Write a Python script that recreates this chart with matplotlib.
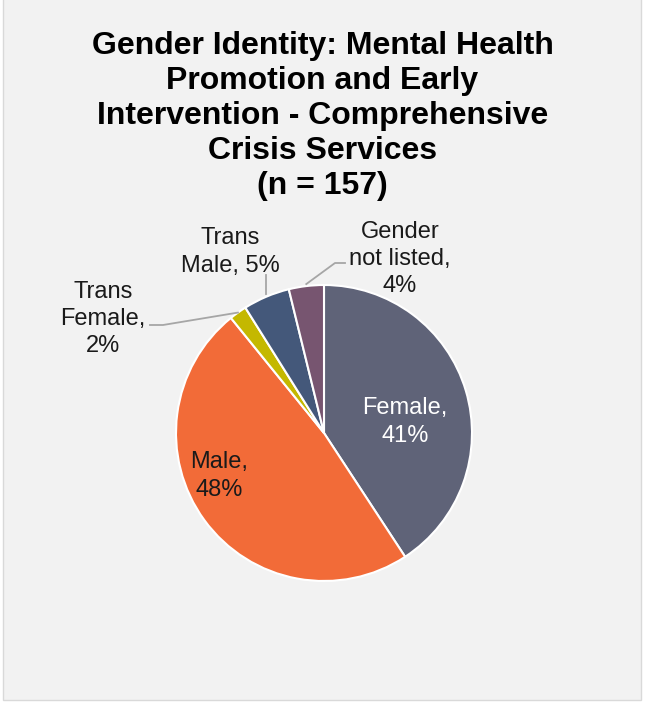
import numpy as np
import matplotlib.pyplot as plt
from matplotlib.patches import Rectangle

plt.rcParams['font.family'] = ['Liberation Sans', 'DejaVu Sans']

labels = ['Female', 'Male', 'Trans\nFemale', 'Trans\nMale', 'Gender\nnot listed']
counts = [64, 76, 3, 8, 6]
pcts = ['41%', '48%', '2%', '5%', '4%']
colors = ['#5F6378', '#F26B38', '#C4B800', '#44587A', '#775570']

W, H = 645, 702
fig = plt.figure(figsize=(W / 100, H / 100), dpi=100, facecolor='white')

ax = fig.add_axes([0, 0, 1, 1])
ax.add_patch(Rectangle((3, 2), 638, H, facecolor='#F2F2F2', edgecolor='#D9D9D9',
                       lw=1, zorder=0))

cx, cy, r = 324, H - 433, 148
wedges, _ = ax.pie(counts, colors=colors, startangle=90, counterclock=False,
                   center=(cx, cy), radius=r, frame=True,
                   wedgeprops=dict(edgecolor='white', linewidth=1.5))
ax.set_xlim(0, W)
ax.set_ylim(0, H)
ax.set_aspect('equal')
ax.axis('off')

ax.text(W / 2, H - 31, 'Gender Identity: Mental Health\nPromotion and Early\n'
        'Intervention - Comprehensive\nCrisis Services\n(n = 157)',
        ha='center', va='top', fontsize=23, fontweight='bold',
        linespacing=1.22, color='black')


def edge_point(w):
    ang = np.deg2rad((w.theta1 + w.theta2) / 2)
    return cx + r * np.cos(ang), cy + r * np.sin(ang)


fs = 17
ls = 1.3
txt = '#1A1A1A'
# inside labels
ax.text(405, H - 422, labels[0] + ',\n' + pcts[0], ha='center', va='center',
        fontsize=fs, color='white', linespacing=ls)
ax.text(219, H - 476, labels[1] + ',\n' + pcts[1], ha='center', va='center',
        fontsize=fs, color=txt, linespacing=ls)

# outside labels with leader lines
line_kw = dict(color='#A6A6A6', lw=1.3)
x, y = edge_point(wedges[2])
ax.text(103, H - 319, 'Trans\nFemale,\n' + pcts[2], ha='center', va='center',
        fontsize=fs, color=txt, linespacing=ls)
ax.plot([150, 163, x], [H - 325, H - 325, y], **line_kw)

x, y = edge_point(wedges[3])
ax.text(230, H - 252, 'Trans\nMale, ' + pcts[3], ha='center', va='center',
        fontsize=fs, color=txt, linespacing=ls)
ax.plot([266, 266], [H - 275, y + 3], **line_kw)

x, y = edge_point(wedges[4])
ax.text(400, H - 259, 'Gender\nnot listed,\n' + pcts[4], ha='center', va='center',
        fontsize=fs, color=txt, linespacing=ls)
ax.plot([345, 335, x], [H - 263, H - 263, y + 2], **line_kw)

fig.savefig('out.png', dpi=100)
